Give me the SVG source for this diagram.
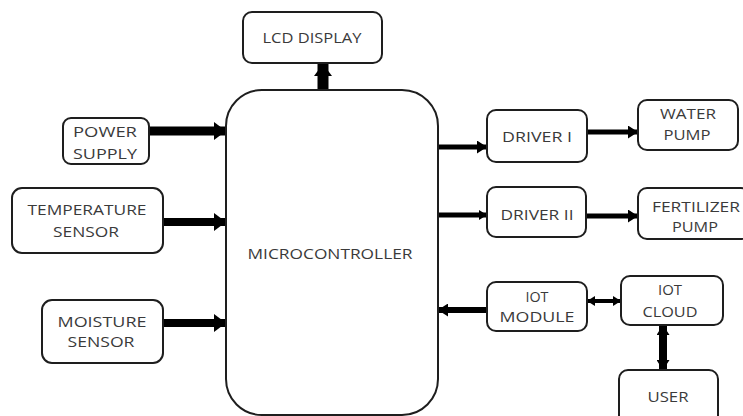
<svg xmlns="http://www.w3.org/2000/svg" width="743" height="416" viewBox="0 0 743 416">
<style>
  .box { fill: #ffffff; stroke: #1e1e1e; stroke-width: 2; }
  .lbl { font-family: "Open Sans", "Liberation Sans", sans-serif; font-size: 14px; fill: #3a3a3a; text-anchor: middle; }
  .wire { stroke: #000000; fill: none; }
</style>
<defs>
  <marker id="headL" markerUnits="userSpaceOnUse" markerWidth="12" markerHeight="18" refX="12" refY="9" orient="auto-start-reverse">
    <path d="M0,0 L12,9 L0,18 z" fill="#000"/>
  </marker>
  <marker id="headM" markerUnits="userSpaceOnUse" markerWidth="10" markerHeight="13" refX="10" refY="6.5" orient="auto-start-reverse">
    <path d="M0,0 L10,6.5 L0,13 z" fill="#000"/>
  </marker>
  <marker id="headS" markerUnits="userSpaceOnUse" markerWidth="8" markerHeight="10" refX="8" refY="5" orient="auto-start-reverse">
    <path d="M0,0 L8,5 L0,10 z" fill="#000"/>
  </marker>
</defs>
<rect width="743" height="416" fill="#ffffff"/>

<g id="connectors">
  <line class="wire" x1="323" y1="90" x2="323" y2="64" stroke-width="11" marker-end="url(#headL)"/>
  <line class="wire" x1="149" y1="131" x2="226" y2="131" stroke-width="9" marker-end="url(#headL)"/>
  <line class="wire" x1="163" y1="222" x2="226" y2="222" stroke-width="8" marker-end="url(#headL)"/>
  <line class="wire" x1="163" y1="323" x2="226" y2="323" stroke-width="8" marker-end="url(#headL)"/>
  <line class="wire" x1="438" y1="147" x2="487" y2="147" stroke-width="5" marker-end="url(#headM)"/>
  <line class="wire" x1="587" y1="132" x2="638" y2="132" stroke-width="5" marker-end="url(#headM)"/>
  <line class="wire" x1="438" y1="215" x2="487" y2="215" stroke-width="5" marker-end="url(#headS)"/>
  <line class="wire" x1="586" y1="216" x2="638" y2="216" stroke-width="5" marker-end="url(#headM)"/>
  <line class="wire" x1="487" y1="310" x2="438" y2="310" stroke-width="6" marker-end="url(#headM)"/>
  <line class="wire" x1="587" y1="301" x2="621" y2="301" stroke-width="4" marker-start="url(#headS)" marker-end="url(#headS)"/>
  <line class="wire" x1="663" y1="325" x2="663" y2="370" stroke-width="8" marker-start="url(#headM)" marker-end="url(#headM)"/>
</g>

<g id="lcd">
  <rect class="box" x="243" y="12" width="139" height="51" rx="9"/>
  <text class="lbl" x="312" y="43" textLength="99" lengthAdjust="spacingAndGlyphs">LCD DISPLAY</text>
</g>
<g id="mcu">
  <rect class="box" x="226" y="90" width="212" height="325" rx="36"/>
  <text class="lbl" x="330" y="259" textLength="165" lengthAdjust="spacingAndGlyphs">MICROCONTROLLER</text>
</g>
<g id="power">
  <rect class="box" x="63" y="118" width="86" height="46" rx="8"/>
  <text class="lbl" x="105" y="137" textLength="64" lengthAdjust="spacingAndGlyphs">POWER</text>
  <text class="lbl" x="105" y="159" textLength="64" lengthAdjust="spacingAndGlyphs">SUPPLY</text>
</g>
<g id="temperature">
  <rect class="box" x="12" y="188" width="151" height="65" rx="10"/>
  <text class="lbl" x="87" y="215" textLength="119" lengthAdjust="spacingAndGlyphs">TEMPERATURE</text>
  <text class="lbl" x="86" y="237" textLength="66" lengthAdjust="spacingAndGlyphs">SENSOR</text>
</g>
<g id="moisture">
  <rect class="box" x="42" y="300" width="121" height="63" rx="10"/>
  <text class="lbl" x="102" y="327" textLength="89" lengthAdjust="spacingAndGlyphs">MOISTURE</text>
  <text class="lbl" x="101" y="347" textLength="67" lengthAdjust="spacingAndGlyphs">SENSOR</text>
</g>
<g id="driver1">
  <rect class="box" x="487" y="110" width="100" height="52" rx="9"/>
  <text class="lbl" x="537" y="142" textLength="70" lengthAdjust="spacingAndGlyphs">DRIVER I</text>
</g>
<g id="waterpump">
  <rect class="box" x="638" y="100" width="100" height="50" rx="9"/>
  <text class="lbl" x="688" y="119" textLength="56" lengthAdjust="spacingAndGlyphs">WATER</text>
  <text class="lbl" x="687" y="140" textLength="47" lengthAdjust="spacingAndGlyphs">PUMP</text>
</g>
<g id="driver2">
  <rect class="box" x="487" y="187" width="99" height="50" rx="9"/>
  <text class="lbl" x="537" y="220" textLength="73" lengthAdjust="spacingAndGlyphs">DRIVER II</text>
</g>
<g id="fertpump">
  <rect class="box" x="638" y="188" width="112" height="51" rx="9"/>
  <text class="lbl" x="696" y="212" textLength="88" lengthAdjust="spacingAndGlyphs">FERTILIZER</text>
  <text class="lbl" x="695" y="232" textLength="46" lengthAdjust="spacingAndGlyphs">PUMP</text>
</g>
<g id="iotmodule">
  <rect class="box" x="487" y="282" width="100" height="49" rx="9"/>
  <text class="lbl" x="537" y="302" textLength="23" lengthAdjust="spacingAndGlyphs">IOT</text>
  <text class="lbl" x="537" y="322" textLength="75" lengthAdjust="spacingAndGlyphs">MODULE</text>
</g>
<g id="iotcloud">
  <rect class="box" x="621" y="276" width="102" height="49" rx="9"/>
  <text class="lbl" x="670" y="295" textLength="24" lengthAdjust="spacingAndGlyphs">IOT</text>
  <text class="lbl" x="670" y="317" textLength="55" lengthAdjust="spacingAndGlyphs">CLOUD</text>
</g>
<g id="user">
  <rect class="box" x="619" y="370" width="99" height="60" rx="9"/>
  <text class="lbl" x="668" y="402" textLength="41" lengthAdjust="spacingAndGlyphs">USER</text>
</g>
</svg>
